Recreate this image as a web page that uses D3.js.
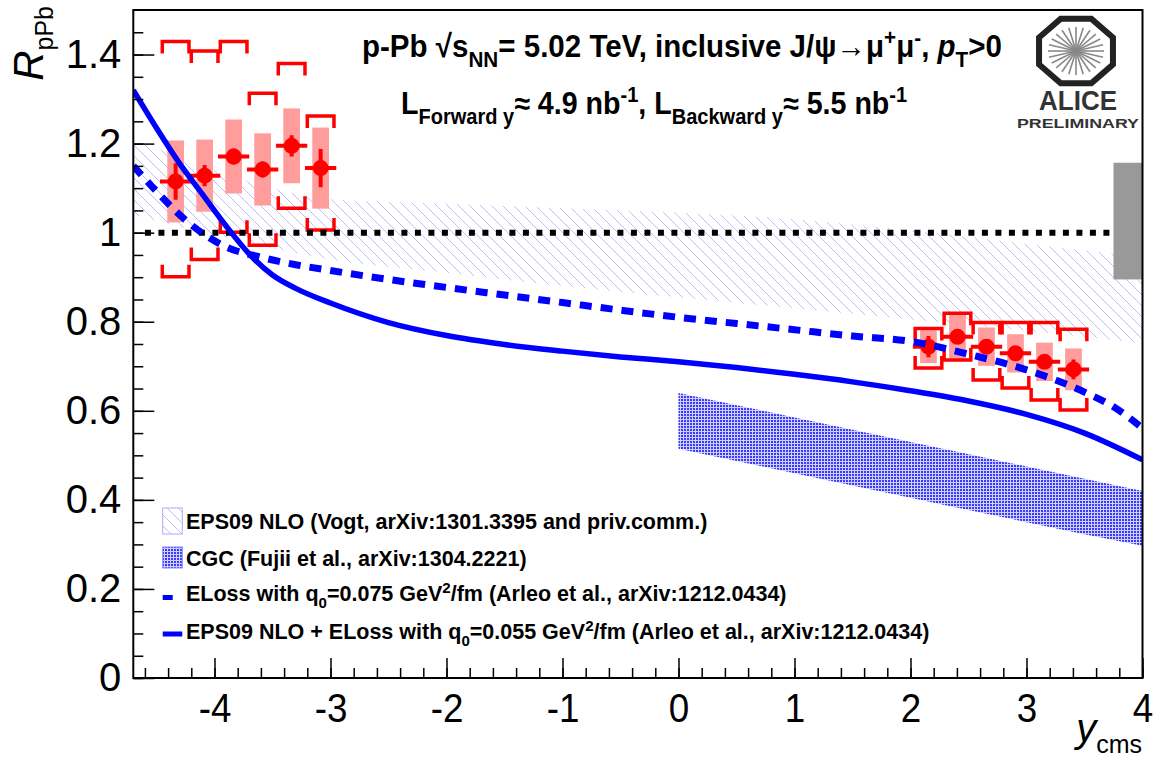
<!DOCTYPE html>
<html>
<head>
<meta charset="utf-8">
<script src="https://cdn.jsdelivr.net/npm/d3@7"></script>
<style>
  body { margin: 0; background: #fff; }
  text { font-family: 'Liberation Sans', Arial, Helvetica, sans-serif; }
</style>
</head>
<body>
<script>
// ---- data ----
// backward rapidity bins
const bwX = [-4.335, -4.085, -3.835, -3.585, -3.335, -3.085]
const bwR = [1.115, 1.128, 1.171, 1.142, 1.195, 1.145]
const bwStat = [0.041, 0.024, 0.018, 0.018, 0.024, 0.043]
const bwSyst = [0.092, 0.081, 0.083, 0.081, 0.084, 0.091]
const bwCorrHi = [1.429, 1.408, 1.429, 1.313, 1.380, 1.262]
const bwCorrLo = [0.901, 0.940, 1.001, 0.972, 1.055, 1.006]

// forward rapidity bins
const fwX = [2.155, 2.405, 2.655, 2.905, 3.155, 3.405]
const fwR = [0.744, 0.766, 0.744, 0.729, 0.710, 0.693]
const fwStat = [0.024, 0.015, 0.015, 0.015, 0.015, 0.022]
const fwSyst = [0.037, 0.049, 0.043, 0.043, 0.043, 0.047]
const fwCorrHi = [0.785, 0.819, 0.798, 0.798, 0.798, 0.783]
const fwCorrLo = [0.696, 0.714, 0.669, 0.651, 0.624, 0.602]

// global uncertainty box at R = 1
const globalSyst = [0.895, 1.157]

// EPS09 NLO (Vogt) band
const epsX = [-4.7, -4.4, -4.0, -3.5, -3.0, -2.0, -1.0, 0, 1, 2, 3, 4]
const epsHi = [1.21, 1.18, 1.14, 1.10, 1.075, 1.065, 1.055, 1.045, 1.03, 1.005, 0.975, 0.945]
const epsLo = [1.04, 1.02, 0.995, 0.965, 0.94, 0.91, 0.88, 0.855, 0.83, 0.805, 0.78, 0.752]

// CGC (Fujii) band
const cgcX = [0, 1, 2, 3, 4]
const cgcHi = [0.64, 0.585, 0.53, 0.475, 0.42]
const cgcLo = [0.515, 0.46, 0.405, 0.35, 0.297]

// ELoss q0=0.075 (dashed)
const elossX = [-4.7, -4.5, -4.3, -4.1, -3.9, -3.6, -3.3, -3.0, -2.5, -2.0, -1.5, -1.0, -0.5, 0, 0.5, 1.0, 1.5, 2.0, 2.5, 3.0, 3.5, 3.75, 4.0]
const elossR = [1.15, 1.093, 1.04, 0.998, 0.968, 0.945, 0.928, 0.915, 0.895, 0.877, 0.86, 0.843, 0.826, 0.81, 0.796, 0.782, 0.768, 0.756, 0.727, 0.692, 0.642, 0.609, 0.561]

// EPS09 NLO + ELoss q0=0.055 (solid)
const epsElossX = [-4.7, -4.5, -4.3, -4.1, -3.9, -3.7, -3.5, -3.3, -3.0, -2.5, -2.0, -1.5, -1.0, -0.5, 0, 0.5, 1.0, 1.5, 2.0, 2.5, 3.0, 3.5, 4.0]
const epsElossR = [1.32, 1.235, 1.155, 1.085, 1.015, 0.952, 0.905, 0.875, 0.842, 0.798, 0.769, 0.749, 0.734, 0.721, 0.71, 0.697, 0.682, 0.665, 0.645, 0.622, 0.592, 0.55, 0.49]

const xTicks = [-4, -3, -2, -1, 0, 1, 2, 3, 4]
const xTickLabels = ['-4', '-3', '-2', '-1', '0', '1', '2', '3', '4']
const yTicks = [0, 0.2, 0.4, 0.6, 0.8, 1, 1.2, 1.4]
const yTickLabels = ['0', '0.2', '0.4', '0.6', '0.8', '1', '1.2', '1.4']

function renderSvg() {
  const W = 1154, H = 759
  const frame = { left: 133.3, right: 1142.5, top: 10, bottom: 678 }

  const x = d3.scaleLinear().domain([-4.7, 4]).range([frame.left, frame.right])
  const y = d3.scaleLinear().domain([0, 1.5]).range([frame.bottom, frame.top])

  const svg = d3.select('body')
    .append('svg')
    .attr('width', W)
    .attr('height', H)

  const defs = svg.append('defs')

  defs.append('clipPath')
    .attr('id', 'clip')
    .append('rect')
    .attr('x', frame.left)
    .attr('y', frame.top)
    .attr('width', frame.right - frame.left)
    .attr('height', frame.bottom - frame.top)

  // hatch for EPS09 band
  const hatch = defs.append('pattern')
    .attr('id', 'hatch')
    .attr('patternUnits', 'userSpaceOnUse')
    .attr('width', 11)
    .attr('height', 11)
  hatch.append('path')
    .attr('d', 'M-1,-1L12,12M-1,10L1,12M10,-1L12,1')
    .attr('stroke', '#7a7aff')
    .attr('stroke-width', 0.9)
    .attr('stroke-opacity', 0.55)

  // dots for CGC band
  const dots = defs.append('pattern')
    .attr('id', 'dots')
    .attr('patternUnits', 'userSpaceOnUse')
    .attr('width', 3)
    .attr('height', 3)
  dots.append('rect').attr('width', 3).attr('height', 3).attr('fill', '#d0d0ff')
  dots.append('rect').attr('width', 2).attr('height', 2).attr('fill', '#3a3aff')

  const plot = svg.append('g').attr('clip-path', 'url(#clip)')

  // theory bands
  const area = d3.area().curve(d3.curveMonotoneX)

  plot.append('path')
    .datum(epsX.map((d, i) => [d, epsLo[i], epsHi[i]]))
    .attr('d', area.x(d => x(d[0])).y0(d => y(d[1])).y1(d => y(d[2])))
    .attr('fill', 'url(#hatch)')

  plot.append('path')
    .datum(cgcX.map((d, i) => [d, cgcLo[i], cgcHi[i]]))
    .attr('d', area.x(d => x(d[0])).y0(d => y(d[1])).y1(d => y(d[2])))
    .attr('fill', 'url(#dots)')

  // data points, both rapidity ranges
  const points = bwX.map((d, i) => ({ x: d, r: bwR[i], stat: bwStat[i], syst: bwSyst[i], hi: bwCorrHi[i], lo: bwCorrLo[i] }))
    .concat(fwX.map((d, i) => ({ x: d, r: fwR[i], stat: fwStat[i], syst: fwSyst[i], hi: fwCorrHi[i], lo: fwCorrLo[i] })))

  const boxHalf = 0.072, brHalf = 0.115, barHalf = 0.135, leg = 12

  plot.append('g')
    .selectAll('rect')
    .data(points)
    .enter()
    .append('rect')
    .attr('x', d => x(d.x - boxHalf))
    .attr('width', d => x(d.x + boxHalf) - x(d.x - boxHalf))
    .attr('y', d => y(d.r + d.syst))
    .attr('height', d => y(d.r - d.syst) - y(d.r + d.syst))
    .attr('fill', '#ff9c9c')

  // correlated uncertainties as open brackets
  plot.append('g')
    .selectAll('path')
    .data(points)
    .enter()
    .append('path')
    .attr('d', d => {
      const x0 = x(d.x - brHalf), x1 = x(d.x + brHalf), yt = y(d.hi), yb = y(d.lo)
      return `M${x0},${yt + leg}V${yt}H${x1}V${yt + leg}M${x0},${yb - leg}V${yb}H${x1}V${yb - leg}`
    })
    .attr('fill', 'none')
    .attr('stroke', '#ff0000')
    .attr('stroke-width', 3.5)

  const bars = plot.append('g')
    .attr('stroke', '#ff0000')
    .attr('stroke-width', 4)
  bars.selectAll('.ex')
    .data(points)
    .enter()
    .append('line')
    .attr('x1', d => x(d.x - barHalf))
    .attr('x2', d => x(d.x + barHalf))
    .attr('y1', d => y(d.r))
    .attr('y2', d => y(d.r))
  bars.selectAll('.ey')
    .data(points)
    .enter()
    .append('line')
    .attr('x1', d => x(d.x))
    .attr('x2', d => x(d.x))
    .attr('y1', d => y(d.r + d.stat))
    .attr('y2', d => y(d.r - d.stat))

  plot.append('g')
    .selectAll('circle')
    .data(points)
    .enter()
    .append('circle')
    .attr('cx', d => x(d.x))
    .attr('cy', d => y(d.r))
    .attr('r', 8)
    .attr('fill', '#ff0000')

  // reference line at 1
  plot.append('line')
    .attr('x1', x(-4.6))
    .attr('x2', x(4))
    .attr('y1', y(1))
    .attr('y2', y(1))
    .attr('stroke', '#000')
    .attr('stroke-width', 6)
    .attr('stroke-dasharray', '6,7.5')

  // theory curves
  const line = d3.line().curve(d3.curveMonotoneX).x(d => x(d[0])).y(d => y(d[1]))

  plot.append('path')
    .datum(epsElossX.map((d, i) => [d, epsElossR[i]]))
    .attr('d', line)
    .attr('fill', 'none')
    .attr('stroke', '#0000ff')
    .attr('stroke-width', 5.5)

  plot.append('path')
    .datum(elossX.map((d, i) => [d, elossR[i]]))
    .attr('d', line)
    .attr('fill', 'none')
    .attr('stroke', '#0000ff')
    .attr('stroke-width', 7)
    .attr('stroke-dasharray', '12,9')

  // global uncertainty
  plot.append('rect')
    .attr('x', x(3.75))
    .attr('width', x(4) - x(3.75))
    .attr('y', y(globalSyst[1]))
    .attr('height', y(globalSyst[0]) - y(globalSyst[1]))
    .attr('fill', '#999999')

  // axes (ROOT style ticks pointing inward)
  const xAxis = svg.append('g')
    .attr('transform', `translate(0,${frame.bottom})`)
    .call(d3.axisBottom(x).tickValues(xTicks).tickSizeInner(-20).tickSizeOuter(0).tickPadding(16)
      .tickFormat((d, i) => xTickLabels[i]))
  svg.append('g')
    .attr('transform', `translate(0,${frame.bottom})`)
    .call(d3.axisBottom(x).tickValues(d3.range(-46, 41, 2).map(v => v / 10)).tickSizeInner(-10).tickSizeOuter(0).tickFormat(''))
    .select('.domain').remove()

  const yAxis = svg.append('g')
    .attr('transform', `translate(${frame.left},0)`)
    .call(d3.axisLeft(y).tickValues(yTicks).tickSizeInner(-21).tickSizeOuter(0).tickPadding(12)
      .tickFormat((d, i) => yTickLabels[i]))
  svg.append('g')
    .attr('transform', `translate(${frame.left},0)`)
    .call(d3.axisLeft(y).tickValues(d3.range(0, 30).map(v => v * 0.05)).tickSizeInner(-10).tickSizeOuter(0).tickFormat(''))
    .select('.domain').remove()

  svg.selectAll('.tick line').attr('stroke', '#000').attr('stroke-width', 1.5)
  xAxis.select('.domain').remove()
  yAxis.select('.domain').remove()
  xAxis.selectAll('text').attr('font-size', 40).attr('fill', '#000')
    .attr('font-family', "'Liberation Sans', Arial, sans-serif")
    .attr('transform', 'scale(0.92,1)')
  yAxis.selectAll('text').attr('font-size', 40).attr('fill', '#000')
    .attr('font-family', "'Liberation Sans', Arial, sans-serif")

  svg.append('rect')
    .attr('x', frame.left)
    .attr('y', frame.top)
    .attr('width', frame.right - frame.left)
    .attr('height', frame.bottom - frame.top)
    .attr('fill', 'none')
    .attr('stroke', '#000')
    .attr('stroke-width', 2)

  // bold text with sub/superscripts, optional horizontal squeeze
  function rich(parent, px, py, parts, size, sx) {
    const t = parent.append('text')
      .attr('transform', `translate(${px},${py}) scale(${sx || 1},1)`)
      .attr('font-size', size)
      .attr('font-weight', 'bold')
      .attr('fill', '#000')
    let shift = 0
    parts.forEach(p => {
      const s = p.sub ? size * 0.32 : p.sup ? -size * 0.38 : 0
      t.append('tspan')
        .attr('dy', s - shift)
        .attr('font-size', p.sub || p.sup ? size * 0.7 : size)
        .attr('font-style', p.italic ? 'italic' : null)
        .text(p.t)
      shift = s
    })
    return t
  }

  // axis titles
  const yTitle = svg.append('text')
    .attr('transform', 'translate(43,6) rotate(-90)')
    .attr('text-anchor', 'end')
    .attr('font-size', 42)
  yTitle.append('tspan').attr('font-style', 'italic').text('R')
  yTitle.append('tspan').attr('font-size', 25).attr('dy', 10).text('pPb')

  const xTitle = svg.append('text')
    .attr('x', 1142)
    .attr('y', 742)
    .attr('text-anchor', 'end')
    .attr('font-size', 40)
  xTitle.append('tspan').attr('font-style', 'italic').text('y')
  xTitle.append('tspan').attr('font-size', 25).attr('dy', 11).text('cms')

  // header
  rich(svg, 362, 57, [
    { t: 'p-Pb  √' }, { t: 's' }, { t: 'NN', sub: true },
    { t: '= 5.02 TeV, inclusive J/ψ→μ' }, { t: '+', sup: true }, { t: 'μ' }, { t: '-', sup: true },
    { t: ',  ' }, { t: 'p', italic: true }, { t: 'T', sub: true }, { t: '>0' }
  ], 32, 0.923)

  rich(svg, 401, 114, [
    { t: 'L' }, { t: 'Forward y', sub: true }, { t: '≈ 4.9 nb' }, { t: '-1', sup: true },
    { t: ', L' }, { t: 'Backward y', sub: true }, { t: '≈ 5.5 nb' }, { t: '-1', sup: true }
  ], 31, 0.923)

  // legend
  const legend = svg.append('g')
  const lx = 162.7, lw = 19.6
  legend.append('rect')
    .attr('x', lx).attr('y', 508).attr('width', lw).attr('height', 26)
    .attr('fill', 'url(#hatch)').attr('stroke', '#aaaaff').attr('stroke-width', 1)
  legend.append('rect')
    .attr('x', lx).attr('y', 547).attr('width', lw).attr('height', 21)
    .attr('fill', 'url(#dots)').attr('stroke', '#8888ff').attr('stroke-width', 1)
  legend.append('rect')
    .attr('x', lx).attr('y', 595).attr('width', 10).attr('height', 5)
    .attr('fill', '#0000ff')
  legend.append('line')
    .attr('x1', lx).attr('x2', lx + lw).attr('y1', 634).attr('y2', 634)
    .attr('stroke', '#0000ff').attr('stroke-width', 5)

  rich(legend, 186, 529, [{ t: 'EPS09 NLO (Vogt, arXiv:1301.3395 and priv.comm.)' }], 21.5)
  rich(legend, 186, 566, [{ t: 'CGC (Fujii et al., arXiv:1304.2221)' }], 21.5)
  rich(legend, 186, 601, [
    { t: 'ELoss with q' }, { t: '0', sub: true }, { t: '=0.075 GeV' }, { t: '2', sup: true },
    { t: '/fm (Arleo et al., arXiv:1212.0434)' }
  ], 21.5)
  rich(legend, 186, 639, [
    { t: 'EPS09 NLO + ELoss with q' }, { t: '0', sub: true }, { t: '=0.055 GeV' }, { t: '2', sup: true },
    { t: '/fm (Arleo et al., arXiv:1212.0434)' }
  ], 21.5)

  // ALICE logo
  const logo = svg.append('g').attr('transform', 'translate(1076,51)')
  const octa = d3.range(8).map(i => {
    const a = (22.5 + 45 * i) * Math.PI / 180
    return [40 * Math.cos(a), 35 * Math.sin(a)]
  })
  logo.append('path')
    .attr('d', d3.line()(octa) + 'Z')
    .attr('fill', 'none')
    .attr('stroke', '#222')
    .attr('stroke-width', 6)
  logo.selectAll('.spoke')
    .data(d3.range(24))
    .enter()
    .append('line')
    .attr('x1', 0).attr('y1', 0)
    .attr('x2', d => 28 * Math.cos(d * Math.PI / 12))
    .attr('y2', d => 24 * Math.sin(d * Math.PI / 12))
    .attr('stroke', '#888')
    .attr('stroke-width', 1.6)
  svg.append('text')
    .attr('x', 1078).attr('y', 110)
    .attr('text-anchor', 'middle')
    .attr('font-family', "'DejaVu Sans', sans-serif")
    .attr('font-weight', 'bold')
    .attr('font-size', 27)
    .attr('fill', '#333')
    .attr('textLength', 78)
    .attr('lengthAdjust', 'spacingAndGlyphs')
    .text('ALICE')
  svg.append('text')
    .attr('x', 1078).attr('y', 128)
    .attr('text-anchor', 'middle')
    .attr('font-family', "'DejaVu Sans Mono', monospace")
    .attr('font-weight', 'bold')
    .attr('font-size', 13.5)
    .attr('fill', '#333')
    .attr('textLength', 122)
    .attr('lengthAdjust', 'spacingAndGlyphs')
    .text('PRELIMINARY')
}

renderSvg()
</script>
</body>
</html>
